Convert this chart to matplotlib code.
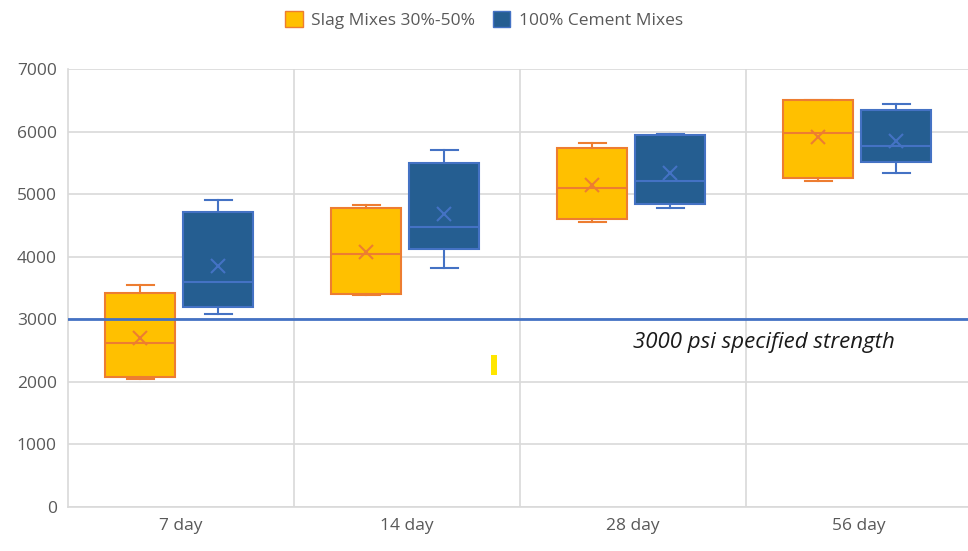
import matplotlib
matplotlib.use("Agg")
import matplotlib.pyplot as plt
from matplotlib.patches import Patch, Rectangle

plt.rcParams["font.family"] = ["Open Sans", "DejaVu Sans"]

# data (psi)
ages = ["7 day", "14 day", "28 day", "56 day"]

slag_low = [2040, 3385, 4555, 5210]
slag_q1 = [2077, 3400, 4600, 5255]
slag_med = [2620, 4045, 5095, 5975]
slag_mean = [2700, 4075, 5145, 5910]
slag_q3 = [3419, 4780, 5740, 6505]
slag_high = [3550, 4820, 5815, 6510]

cem_low = [3085, 3820, 4780, 5340]
cem_q1 = [3195, 4120, 4840, 5510]
cem_med = [3595, 4475, 5210, 5770]
cem_mean = [3850, 4680, 5335, 5850]
cem_q3 = [4713, 5495, 5945, 6345]
cem_high = [4905, 5705, 5960, 6440]

spec_strength = 3000

slag_fill, slag_edge = "#FFC000", "#ED7D31"
cem_fill, cem_edge = "#255E91", "#4472C4"


def make_stats(lo, q1, med, mean, q3, hi):
    return [dict(whislo=a, q1=b, med=c, mean=d, q3=e, whishi=f, fliers=[])
            for a, b, c, d, e, f in zip(lo, q1, med, mean, q3, hi)]


fig = plt.figure(figsize=(9.68, 5.51), dpi=100)
ax = fig.add_axes([68 / 968, 44 / 551, 904 / 968, 438 / 551])

pos = range(len(ages))
w = 0.31

for stats, off, fc, ec in [
    (make_stats(slag_low, slag_q1, slag_med, slag_mean, slag_q3, slag_high), -0.18, slag_fill, slag_edge),
    (make_stats(cem_low, cem_q1, cem_med, cem_mean, cem_q3, cem_high), 0.165, cem_fill, cem_edge),
]:
    ax.bxp(stats, positions=[p + off for p in pos], widths=w, patch_artist=True,
           showmeans=True, showfliers=False,
           boxprops=dict(facecolor=fc, edgecolor=ec, linewidth=1.5),
           medianprops=dict(color=ec, linewidth=1.5),
           whiskerprops=dict(color=ec, linewidth=1.5),
           capprops=dict(color=ec, linewidth=1.5),
           capwidths=0.12,
           meanprops=dict(marker="x", markeredgecolor=ec, markersize=10, markeredgewidth=1.5))

# specified strength line
ax.axhline(spec_strength, color="#4472C4", linewidth=2, zorder=5)
ax.text(2.0, 2630, "3000 psi specified strength", fontsize=16, style="italic",
        color="#1a1a1a", ha="left", va="center")
# small yellow mark
ax.add_patch(Rectangle((1.372, 2110), 0.027, 320, color="#FFE600", lw=0))

ax.set_xlim(-0.5, 3.5)
ax.set_ylim(0, 7000)
ax.set_yticks(range(0, 7001, 1000))
ax.set_xticks(list(pos))
ax.set_xticklabels(ages)
ax.yaxis.grid(True, color="#D9D9D9", linewidth=1.2)
for xb in [0.5, 1.5, 2.5]:
    ax.axvline(xb, color="#D9D9D9", linewidth=1.2, zorder=0)
ax.set_axisbelow(True)
for s in ["top", "right"]:
    ax.spines[s].set_visible(False)
for s in ["left", "bottom"]:
    ax.spines[s].set_color("#D9D9D9")
    ax.spines[s].set_linewidth(1.2)
ax.tick_params(length=0, labelsize=12.5, labelcolor="#595959", pad=8)

handles = [Patch(facecolor=slag_fill, edgecolor=slag_edge, label="Slag Mixes 30%-50%"),
           Patch(facecolor=cem_fill, edgecolor=cem_edge, label="100% Cement Mixes")]
fig.legend(handles=handles, loc="center", bbox_to_anchor=(0.5, 0.964), ncol=2,
           frameon=False, fontsize=12.5, labelcolor="#595959",
           handlelength=1.0, handleheight=1.0, columnspacing=1.0, handletextpad=0.5)

fig.savefig("out.png", dpi=100)
